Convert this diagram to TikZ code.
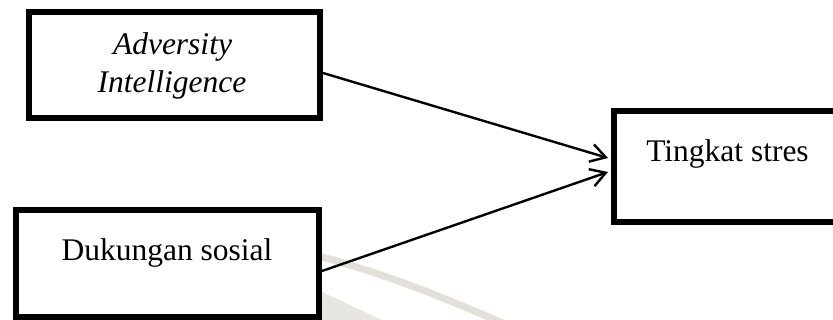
\documentclass[tikz,border=0pt]{standalone}
\usepackage{fontspec}
\setmainfont{Liberation Serif}
\usetikzlibrary{arrows.meta,calc}
\definecolor{wmark}{RGB}{226,224,217}
\begin{document}
\begin{tikzpicture}[x=1pt,y=1pt,
  box/.style={draw=black, line width=6pt, rectangle, inner sep=0pt, fill=white},
  lbl/.style={inner sep=0pt, anchor=base, font=\fontsize{31.5}{38}\selectfont},
  conn/.style={line width=2.4pt, -{Straight Barb[length=15pt,width=18pt,line width=2.4pt]}}]
\useasboundingbox (0,0) rectangle (833,320);
\clip (0,0) rectangle (833,320);
\fill[white] (0,0) rectangle (833,320);
% faint watermark
\draw[wmark, line width=7pt] (318,64) .. controls (380,48) and (440,24) .. (505,-4);
\fill[wmark!80] (318,30) -- (386,-2) -- (318,-2) -- cycle;
% boxes
\node[box, minimum width=291pt, minimum height=106pt] (b1) at (174.5,255) {};
\node[box, minimum width=303pt, minimum height=107pt] (b2) at (167.5,56.5) {};
\node[box, minimum width=266pt, minimum height=111pt] (b3) at (747,153.5) {};
% labels
\node[lbl] (t1a) at (172.5,265) {\itshape Adversity};
\node[lbl] (t1b) at (172,227) {\itshape Intelligence};
\node[lbl] (t2) at (167,59) {Dukungan sosial};
\node[lbl] (t3) at (727.5,158.3) {Tingkat stres};
% connector ends
\coordinate (s1) at ($(b1.east)+(0,-8)$);
\coordinate (s2) at ($(b2.east)+(0,-7.5)$);
\coordinate (e1) at ($(b3.west)+(-3,8.5)$);
\coordinate (e2) at ($(b3.west)+(-3,-5.5)$);
\draw[conn] (s1) -- (e1);
\draw[conn] (s2) -- (e2);
\end{tikzpicture}
\end{document}
